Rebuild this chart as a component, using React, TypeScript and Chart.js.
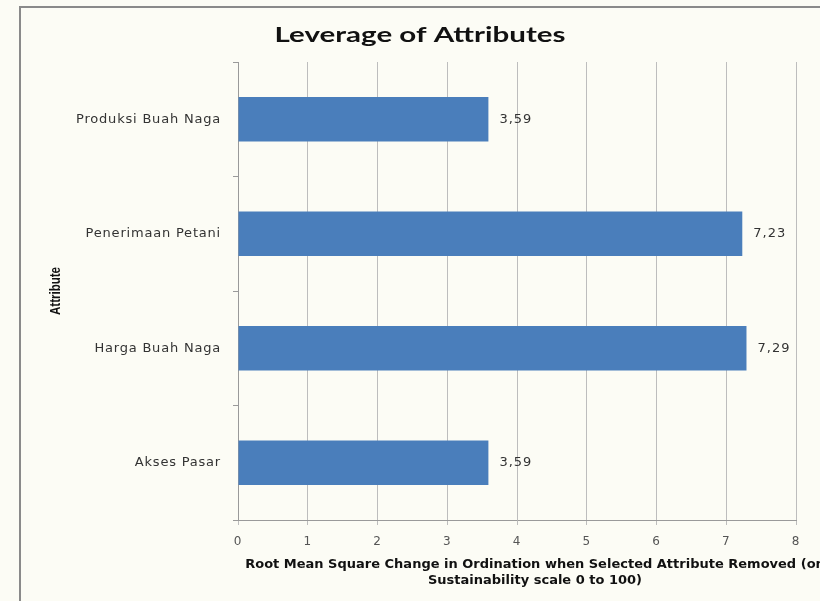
import React, { useEffect, useRef } from "react";
import { Chart, registerables } from "chart.js";

Chart.register(...registerables);

const categories = ["Produksi Buah Naga", "Penerimaan Petani", "Harga Buah Naga", "Akses Pasar"];
const values = [3.59, 7.23, 7.29, 3.59];
const valueLabels = ["3,59", "7,23", "7,29", "3,59"];
const chartTitle = "Leverage of Attributes";
const xTitleLines = [
  "Root Mean Square Change in Ordination when Selected Attribute Removed (on",
  "Sustainability scale 0 to 100)",
];
const yTitle = "Attribute";

function drawStretched(ctx: any, text: string, cx: number, cy: number, targetWidth: number) {
  const w = ctx.measureText(text).width;
  const s = targetWidth / w;
  ctx.save();
  ctx.translate(cx, cy);
  ctx.scale(s, 1);
  ctx.textAlign = "center";
  ctx.fillText(text, 0, 0);
  ctx.restore();
}

const decorPlugin = {
  id: "decor",
  beforeDraw(chart: any) {
    const ctx = chart.ctx;
    ctx.save();
    ctx.fillStyle = "#fcfcf5";
    ctx.fillRect(0, 0, chart.width, chart.height);
    ctx.strokeStyle = "#8a8a8a";
    ctx.lineWidth = 2;
    ctx.beginPath();
    ctx.moveTo(20, chart.height);
    ctx.lineTo(20, 7);
    ctx.lineTo(chart.width, 7);
    ctx.stroke();
    ctx.restore();
    ctx.letterSpacing = "0.8px";
  },
  afterDraw(chart: any) {
    const ctx = chart.ctx;
    const area = chart.chartArea;
    ctx.save();
    ctx.letterSpacing = "0px";
    // title
    ctx.fillStyle = "#111111";
    ctx.font = "bold 20px Lato";
    ctx.textBaseline = "alphabetic";
    drawStretched(ctx, chartTitle, 420, 42, 291);
    // x title
    ctx.font = "bold 13px 'DejaVu Sans'";
    ctx.fillStyle = "#111111";
    ctx.textAlign = "center";
    ctx.textBaseline = "middle";
    ctx.fillText(xTitleLines[0], 535, 565);
    ctx.fillText(xTitleLines[1], 535, 581);
    // y title
    ctx.save();
    ctx.translate(56, (area.top + area.bottom) / 2);
    ctx.rotate(-Math.PI / 2);
    ctx.font = "bold 14px 'Liberation Sans'";
    ctx.textBaseline = "middle";
    drawStretched(ctx, yTitle, 0, 0, 48);
    ctx.restore();
    // value labels
    const meta = chart.getDatasetMeta(0);
    ctx.letterSpacing = "1px";
    ctx.font = "13px 'DejaVu Sans'";
    ctx.fillStyle = "#333333";
    ctx.textAlign = "left";
    ctx.textBaseline = "middle";
    meta.data.forEach((bar: any, i: number) => {
      ctx.fillText(valueLabels[i], bar.x + 11, bar.y);
    });
    ctx.restore();
  },
};

export default function App() {
  const ref = useRef<HTMLCanvasElement>(null);
  useEffect(() => {
    if (!ref.current) return;
    const chart = new Chart(ref.current, {
      type: "bar",
      data: {
        labels: categories,
        datasets: [
          {
            data: values,
            backgroundColor: "#4a7ebb",
            borderWidth: 0,
            categoryPercentage: 1,
            barPercentage: 0.39,
          },
        ],
      },
      options: {
        indexAxis: "y",
        animation: false,
        responsive: false,
        maintainAspectRatio: false,
        layout: { padding: { left: 0, right: 24, top: 62, bottom: 0 } },
        plugins: { legend: { display: false }, tooltip: { enabled: false }, title: { display: false } },
        scales: {
          x: {
            min: 0,
            max: 8,
            ticks: {
              stepSize: 1,
              color: "#555555",
              font: { size: 12, family: "'DejaVu Sans'" },
              padding: 10,
            },
            grid: { color: "#bdbdbd", lineWidth: 1, tickLength: 5 },
            border: { color: "#9a9a9a" },
            afterFit(scale: any) {
              scale.height = 81;
            },
          },
          y: {
            ticks: {
              color: "#333333",
              font: { size: 13, family: "'DejaVu Sans'" },
              padding: 12,
            },
            grid: { drawOnChartArea: false, offset: true, color: "#9a9a9a", tickLength: 5 },
            border: { color: "#9a9a9a" },
            afterFit(scale: any) {
              scale.width = 238;
            },
          },
        },
      },
      plugins: [decorPlugin],
    });
    return () => chart.destroy();
  }, []);
  return (
    <div style={{ position: "fixed", left: 0, top: 0, width: 820, height: 601 }}>
      <canvas ref={ref} width={820} height={601} style={{ display: "block" }} />
    </div>
  );
}
